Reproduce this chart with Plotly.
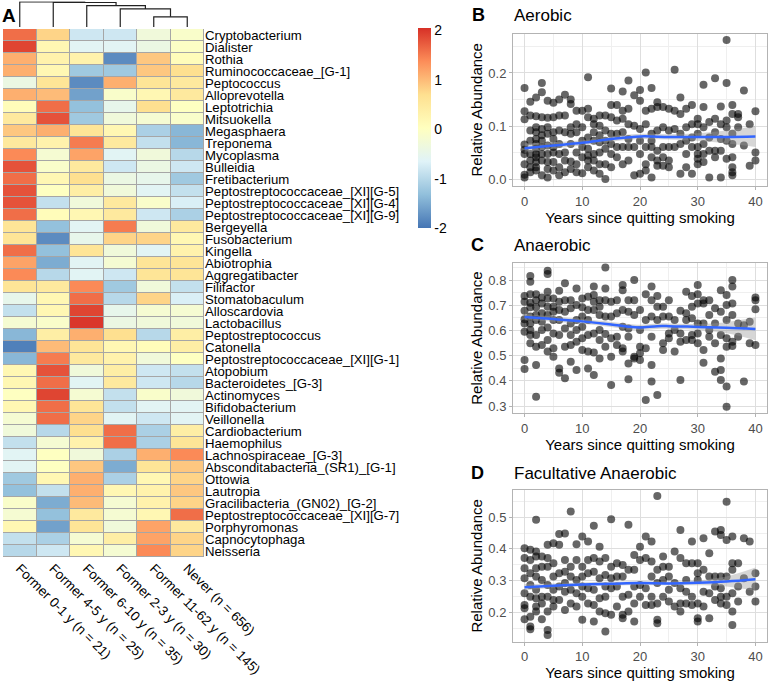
import plotly.graph_objects as go

W, H = 771, 687
FONT = "Liberation Sans"

# ---------------- Heatmap data ----------------
groups = ["Former 0-1 y (n = 21)", "Former 4-5 y (n = 25)", "Former 6-10 y (n = 35)",
          "Former 2-3 y (n = 30)", "Former 11-62 y (n = 145)", "Never (n = 656)"]

taxa = ["Cryptobacterium", "Dialister", "Rothia", "Ruminococcaceae_[G-1]", "Peptococcus",
        "Alloprevotella", "Leptotrichia", "Mitsuokella", "Megasphaera", "Treponema",
        "Mycoplasma", "Bulleidia", "Fretibacterium", "Peptostreptococcaceae_[XI][G-5]",
        "Peptostreptococcaceae_[XI][G-4]", "Peptostreptococcaceae_[XI][G-9]", "Bergeyella",
        "Fusobacterium", "Kingella", "Abiotrophia", "Aggregatibacter", "Filifactor",
        "Stomatobaculum", "Alloscardovia", "Lactobacillus", "Peptostreptococcus", "Catonella",
        "Peptostreptococcaceae_[XI][G-1]", "Atopobium", "Bacteroidetes_[G-3]", "Actinomyces",
        "Bifidobacterium", "Veillonella", "Cardiobacterium", "Haemophilus",
        "Lachnospiraceae_[G-3]", "Absconditabacteria_(SR1)_[G-1]", "Ottowia", "Lautropia",
        "Gracilibacteria_(GN02)_[G-2]", "Peptostreptococcaceae_[XI][G-7]", "Porphyromonas",
        "Capnocytophaga", "Neisseria"]

zscores = [
    [1.6, 0.8, -0.8, -0.8, -0.3, -0.1],
    [1.9, 0.2, -0.6, -0.6, -0.4, -0.05],
    [1.1, 0.3, 0.3, -1.8, 0.9, 0.1],
    [1.1, 0.2, -1.2, -1.2, 0.9, 0.7],
    [-0.4, 0.6, -1.8, 1.1, 0.6, 0.5],
    [1.1, 1.0, -1.6, -0.1, 0.2, 0.5],
    [0.1, 1.6, -1.3, -0.5, 0.7, 0.0],
    [0.5, 1.8, -1.2, -0.3, -0.2, -0.1],
    [0.9, 1.1, 0.6, 0.2, -1.1, -1.4],
    [0.5, 0.3, 1.5, 0.5, -0.9, -1.4],
    [1.4, -0.2, 1.2, -0.6, -0.3, -1.0],
    [1.8, -0.1, 0.5, -0.8, -0.4, -0.8],
    [1.6, 0.2, 0.7, -0.4, -0.5, -1.2],
    [1.8, 0.0, 0.4, -0.3, -0.6, -0.9],
    [1.8, -0.9, -0.3, 0.5, -0.1, -0.7],
    [1.6, 0.1, 0.2, 0.5, -0.8, -1.1],
    [0.6, -1.3, -0.6, 1.5, -0.3, 0.5],
    [0.6, -1.8, -0.5, 0.8, 0.8, 0.2],
    [1.6, -1.3, 0.6, -0.3, -0.6, 0.3],
    [1.2, -1.5, -0.6, -0.2, 0.6, 0.6],
    [1.4, -1.0, -0.6, -0.8, 0.6, 0.6],
    [0.6, 0.5, 1.4, -1.2, -0.3, -0.9],
    [-0.5, 0.2, 1.6, -1.0, 0.8, -0.7],
    [-0.9, 0.2, 1.9, -0.5, -0.2, -0.2],
    [-0.2, -0.1, 2.0, -0.4, -0.3, -0.3],
    [-1.4, 0.4, 1.1, 0.7, -1.0, 0.4],
    [-1.9, 1.0, 0.6, 0.2, 0.1, 0.4],
    [-1.4, 1.5, 0.5, 0.3, -0.3, 0.0],
    [0.2, 1.8, -0.3, 0.4, -0.8, -0.9],
    [0.2, 1.6, -0.6, 0.5, -0.8, -1.0],
    [0.0, 1.9, -0.2, -0.9, -0.1, -0.3],
    [0.2, 1.6, 0.6, -0.9, -0.6, -0.6],
    [-0.2, 1.6, 0.8, -0.6, -0.8, -0.6],
    [-0.3, -1.0, 0.7, 1.6, -1.1, 0.4],
    [-0.9, -0.2, 0.3, 1.6, -1.1, 0.6],
    [-0.6, 0.0, -0.3, -1.1, 1.1, 1.4],
    [-0.6, 0.0, 0.9, -1.5, 0.6, 0.9],
    [-1.2, 0.2, 1.1, -1.1, 0.2, 0.8],
    [-1.3, -0.9, 1.1, 0.2, 0.3, 0.9],
    [-0.1, -1.5, 1.0, -0.2, 0.3, 0.8],
    [-0.2, -1.3, 0.5, -0.2, 0.2, 1.6],
    [0.2, -1.6, 0.6, -0.3, 1.2, 0.5],
    [-0.9, -1.1, -0.2, 0.4, 1.2, 0.8],
    [-1.0, -0.8, 0.2, -0.2, 1.4, 0.8],
]

colorbar_ticks = [-2, -1, 0, 1, 2]
colorbar_ticktext = ["-2", "-1", "0", "1", "2"]

# column dendrogram merges: (left node, right node, height); leaves 0..5, new nodes 6..
dendro_merges = [(4, 5, 10.0), (3, 6, 17.7), (2, 7, 21.0), (1, 8, 24.0), (0, 9, 24.7)]

# ---------------- Scatter data (values per year 0..40) ----------------
aerobic_by_year = [
    [0.172, 0.128, 0.113, 0.066, 0.056, 0.048, 0.029, 0.009, 0.004],
    [0.146, 0.120, 0.092, 0.073, 0.048, 0.036, 0.023, 0.014],
    [0.154, 0.119, 0.098, 0.089, 0.076, 0.067, 0.058, 0.048, 0.042, 0.033, 0.023, 0.017],
    [0.181, 0.164, 0.117, 0.095, 0.083, 0.073, 0.061, 0.048, 0.036, 0.008],
    [0.148, 0.116, 0.098, 0.086, 0.064, 0.048, 0.033, 0.020, 0.004],
    [0.144, 0.117, 0.089, 0.076, 0.061, 0.051, 0.033, 0.017],
    [0.150, 0.120, 0.092, 0.067, 0.048, 0.023, 0.008],
    [0.159, 0.120, 0.089, 0.051, 0.036, 0.014],
    [0.150, 0.142, 0.098, 0.086, 0.067, 0.034, 0.020],
    [0.129, 0.104, 0.089, 0.051, 0.029, 0.014],
    [0.129, 0.098, 0.073, 0.061, 0.042, 0.012],
    [0.192, 0.133, 0.117, 0.079, 0.058, 0.045, 0.036, 0.023],
    [0.114, 0.104, 0.089, 0.073, 0.048, 0.036, 0.017],
    [0.120, 0.101, 0.083, 0.070, 0.051, 0.029, 0.011],
    [0.120, 0.092, 0.073, 0.058, 0.029, 0.001],
    [0.171, 0.140, 0.117, 0.086, 0.067, 0.048, 0.023],
    [0.140, 0.111, 0.086, 0.061, 0.042],
    [0.165, 0.129, 0.114, 0.089, 0.061, 0.029],
    [0.186, 0.133, 0.104, 0.076, 0.061, 0.036],
    [0.158, 0.101, 0.061, 0.008],
    [0.168, 0.148, 0.095, 0.073, 0.048, 0.011],
    [0.201, 0.129, 0.104, 0.061, 0.029, 0.017],
    [0.172, 0.133, 0.086, 0.073, 0.061, 0.042, 0.004],
    [0.145, 0.136, 0.092, 0.054, 0.036, 0.026],
    [0.136, 0.098, 0.061, 0.042, 0.026],
    [0.133, 0.092, 0.061, 0.036, 0.023],
    [0.206, 0.129, 0.095, 0.061],
    [0.154, 0.123, 0.086, 0.067, 0.011],
    [0.133, 0.098, 0.073, 0.048, 0.023],
    [0.140, 0.104, 0.079, 0.061, 0.011],
    [0.114, 0.104, 0.086, 0.061, 0.048, 0.039, 0.029],
    [0.178, 0.136, 0.098, 0.067, 0.048, 0.033],
    [0.108, 0.079, 0.054, 0.004],
    [0.190, 0.114, 0.089, 0.054, 0.042],
    [0.137, 0.104, 0.076, 0.054, 0.004],
    [0.262, 0.181, 0.111, 0.098, 0.073, 0.039],
    [0.140, 0.123, 0.086, 0.067, 0.042, 0.023, 0.014, 0.008],
    [0.123, 0.117, 0.098],
    [0.167, 0.064],
    [0.104, 0.026],
    [0.128, 0.051, 0.036],
]

anaerobic_by_year = [
    [0.737, 0.714, 0.678, 0.644, 0.628, 0.595, 0.483, 0.447],
    [0.816, 0.793, 0.744, 0.710, 0.692, 0.655, 0.628, 0.602, 0.582, 0.549],
    [0.744, 0.720, 0.692, 0.661, 0.641, 0.582, 0.535, 0.463, 0.337],
    [0.731, 0.707, 0.668, 0.635, 0.602, 0.542],
    [0.837, 0.824, 0.754, 0.727, 0.694, 0.661, 0.612, 0.562, 0.516],
    [0.727, 0.694, 0.674, 0.641, 0.588, 0.529, 0.496],
    [0.758, 0.714, 0.681, 0.641, 0.582, 0.449, 0.432],
    [0.787, 0.720, 0.674, 0.608, 0.535, 0.410],
    [0.720, 0.688, 0.628, 0.582, 0.542, 0.476],
    [0.767, 0.701, 0.641, 0.602, 0.555, 0.443],
    [0.727, 0.692, 0.655, 0.615, 0.569, 0.522],
    [0.734, 0.681, 0.641, 0.582, 0.516, 0.449],
    [0.774, 0.741, 0.714, 0.681, 0.588, 0.512, 0.423],
    [0.720, 0.694, 0.661, 0.602, 0.562, 0.489],
    [0.850, 0.767, 0.720, 0.655, 0.586, 0.535],
    [0.714, 0.655, 0.569, 0.496, 0.383],
    [0.720, 0.668, 0.575, 0.542],
    [0.780, 0.760, 0.681, 0.615, 0.529, 0.516],
    [0.720, 0.674, 0.608, 0.575, 0.469, 0.406],
    [0.800, 0.720, 0.661, 0.496, 0.489],
    [0.681, 0.602, 0.535, 0.509, 0.483],
    [0.744, 0.641, 0.529, 0.324],
    [0.774, 0.720, 0.655, 0.575, 0.463, 0.397],
    [0.737, 0.694, 0.641, 0.344],
    [0.694, 0.655, 0.549, 0.522],
    [0.720, 0.655, 0.588, 0.569],
    [0.641, 0.602, 0.516],
    [0.678, 0.588, 0.555, 0.403],
    [0.754, 0.668, 0.641, 0.562],
    [0.737, 0.694, 0.648, 0.582, 0.562],
    [0.780, 0.744, 0.707, 0.628, 0.588, 0.549],
    [0.720, 0.707, 0.628, 0.522, 0.472],
    [0.720, 0.661, 0.602, 0.575],
    [0.688, 0.628, 0.549, 0.436],
    [0.760, 0.674, 0.582, 0.489, 0.443, 0.403],
    [0.741, 0.701, 0.641, 0.569, 0.535, 0.377, 0.297],
    [0.800, 0.774, 0.707, 0.661, 0.555, 0.538],
    [0.628, 0.575],
    [0.621, 0.397],
    [0.635, 0.549],
    [0.731, 0.720, 0.684, 0.542],
]

facultative_by_year = [
    [0.402, 0.371, 0.339, 0.307, 0.260, 0.223, 0.213, 0.178],
    [0.397, 0.365, 0.323, 0.286, 0.249, 0.186, 0.155, 0.146],
    [0.492, 0.392, 0.376, 0.339, 0.313, 0.271, 0.244, 0.218, 0.202],
    [0.376, 0.344, 0.302, 0.249, 0.228, 0.178],
    [0.413, 0.371, 0.344, 0.286, 0.249, 0.202, 0.144, 0.128],
    [0.418, 0.355, 0.313, 0.271, 0.239, 0.218],
    [0.447, 0.413, 0.323, 0.281, 0.239],
    [0.449, 0.365, 0.328, 0.292, 0.265, 0.207],
    [0.518, 0.344, 0.313, 0.271, 0.228],
    [0.415, 0.365, 0.302, 0.260, 0.218],
    [0.439, 0.344, 0.313, 0.281, 0.249, 0.176],
    [0.423, 0.365, 0.323, 0.276, 0.228],
    [0.473, 0.371, 0.328, 0.271, 0.223, 0.171],
    [0.407, 0.360, 0.307, 0.244, 0.202],
    [0.371, 0.318, 0.281, 0.249, 0.197, 0.139],
    [0.494, 0.344, 0.307, 0.276, 0.192],
    [0.355, 0.313, 0.281, 0.218],
    [0.349, 0.313, 0.249, 0.192, 0.181],
    [0.476, 0.334, 0.255, 0.202],
    [0.381, 0.334, 0.281, 0.228, 0.171],
    [0.407, 0.365, 0.286, 0.249],
    [0.439, 0.371, 0.276, 0.223],
    [0.423, 0.360, 0.313, 0.249, 0.223],
    [0.567, 0.334, 0.292, 0.228, 0.176, 0.165],
    [0.376, 0.344, 0.302, 0.249],
    [0.344, 0.313, 0.271, 0.234],
    [0.392, 0.292, 0.218],
    [0.460, 0.371, 0.276, 0.228, 0.202],
    [0.355, 0.302, 0.265, 0.228],
    [0.423, 0.355, 0.249, 0.223],
    [0.355, 0.323, 0.302, 0.228, 0.181, 0.171],
    [0.434, 0.334, 0.265, 0.218],
    [0.386, 0.313, 0.260, 0.181],
    [0.455, 0.313, 0.281, 0.239],
    [0.460, 0.444, 0.313, 0.276, 0.249, 0.228],
    [0.549, 0.428, 0.313, 0.249, 0.223],
    [0.439, 0.355, 0.334, 0.260, 0.202, 0.160],
    [0.355, 0.281, 0.234],
    [0.434, 0.307],
    [0.423, 0.265],
    [0.323, 0.281, 0.234],
]

# smoothing fits (loess fit and half-width of CI band)
aer_fit_x = [0, 5, 10, 15, 20, 25, 30, 35, 40]
aer_fit_y = [0.059, 0.064, 0.069, 0.076, 0.081, 0.080, 0.080, 0.080, 0.081]
aer_fit_se = [0.009, 0.006, 0.005, 0.005, 0.005, 0.005, 0.007, 0.012, 0.020]

ana_fit_x = [0, 5, 10, 15, 18, 20, 23, 25, 30, 35, 40]
ana_fit_y = [0.653, 0.645, 0.636, 0.624, 0.615, 0.612, 0.617, 0.617, 0.614, 0.611, 0.606]
ana_fit_se = [0.013, 0.010, 0.009, 0.010, 0.011, 0.011, 0.011, 0.011, 0.012, 0.022, 0.045]

fac_fit_x = [0, 5, 10, 15, 20, 25, 30, 35, 40]
fac_fit_y = [0.279, 0.284, 0.288, 0.290, 0.292, 0.291, 0.293, 0.297, 0.304]
fac_fit_se = [0.010, 0.007, 0.006, 0.006, 0.006, 0.006, 0.008, 0.016, 0.037]


def px(x):
    return x / W


def py(y):
    return 1 - y / H


fig = go.Figure()

# ---------------- Heatmap ----------------
colorscale = [[0, "#4575B4"], [1 / 6, "#91BFDB"], [2 / 6, "#E0F3F8"], [0.5, "#FFFFBF"],
              [4 / 6, "#FEE090"], [5 / 6, "#FC8D59"], [1, "#D73027"]]
fig.add_trace(go.Heatmap(
    z=zscores, x=list(range(len(groups))), y=list(range(len(taxa))),
    colorscale=colorscale, zmin=-2.0, zmax=2.05, xgap=1, ygap=1,
    xaxis="x", yaxis="y", hoverinfo="skip",
    colorbar=dict(x=px(418), xanchor="left", xpad=0, ypad=0, thickness=13,
                  lenmode="pixels", len=200, y=py(28), yanchor="top",
                  outlinewidth=0, tickvals=colorbar_ticks, ticktext=colorbar_ticktext, ticks="",
                  tickfont=dict(family=FONT, size=14, color="black")),
))

# ---------------- Dendrogram ----------------
node_pos = {i: (float(i), 0.0) for i in range(len(groups))}
dx, dy = [], []
nid = len(groups)
for a, b, h in dendro_merges:
    xa, ha = node_pos[a]
    xb, hb = node_pos[b]
    dx += [xa, xa, xb, xb, None]
    dy += [ha, h, h, hb, None]
    node_pos[nid] = ((xa + xb) / 2, h)
    nid += 1
fig.add_trace(go.Scatter(x=dx, y=dy, mode="lines", line=dict(color="#222222", width=1.2),
                         xaxis="x2", yaxis="y2", hoverinfo="skip", showlegend=False))


# ---------------- Scatter panels ----------------
def add_panel(by_year, fx, fy, fse, xa, ya):
    xs, ys = [], []
    for yr, vals in enumerate(by_year):
        for v in vals:
            xs.append(yr)
            ys.append(v)
    fig.add_trace(go.Scatter(x=xs, y=ys, mode="markers", xaxis=xa, yaxis=ya,
                             marker=dict(size=8, color="rgba(0,0,0,0.6)", line=dict(width=0)),
                             hoverinfo="skip", showlegend=False))
    upper = [f + s for f, s in zip(fy, fse)]
    lower = [f - s for f, s in zip(fy, fse)]
    fig.add_trace(go.Scatter(x=fx, y=upper, mode="lines", line=dict(width=0, shape="spline"),
                             xaxis=xa, yaxis=ya, hoverinfo="skip", showlegend=False))
    fig.add_trace(go.Scatter(x=fx, y=lower, mode="lines", line=dict(width=0, shape="spline"),
                             fill="tonexty", fillcolor="rgba(153,153,153,0.4)",
                             xaxis=xa, yaxis=ya, hoverinfo="skip", showlegend=False))
    fig.add_trace(go.Scatter(x=fx, y=fy, mode="lines", line=dict(color="#3366FF", width=2.5, shape="spline"),
                             xaxis=xa, yaxis=ya, hoverinfo="skip", showlegend=False))


add_panel(aerobic_by_year, aer_fit_x, aer_fit_y, aer_fit_se, "x3", "y3")
add_panel(anaerobic_by_year, ana_fit_x, ana_fit_y, ana_fit_se, "x4", "y4")
add_panel(facultative_by_year, fac_fit_x, fac_fit_y, fac_fit_se, "x5", "y5")

# ---------------- Layout ----------------
hm_dom_x = [px(3), px(204)]
layout = dict(
    width=W, height=H, margin=dict(l=0, r=0, t=0, b=0),
    template="none", paper_bgcolor="white", plot_bgcolor="white",
    showlegend=False, font=dict(family=FONT, color="black"),
    xaxis=dict(domain=hm_dom_x, anchor="y", range=[-0.5, len(groups) - 0.5],
               tickvals=list(range(len(groups))), ticktext=groups, tickangle=45,
               ticks="", showgrid=False, zeroline=False, showline=False, automargin=False,
               tickfont=dict(family=FONT, size=13.5, color="black")),
    yaxis=dict(domain=[py(557), py(29)], anchor="x", range=[len(taxa) - 0.5, -0.5],
               side="right", tickvals=list(range(len(taxa))), ticktext=taxa,
               ticks="", showgrid=False, zeroline=False, showline=False, automargin=False,
               tickfont=dict(family=FONT, size=13.2, color="black")),
    xaxis2=dict(domain=hm_dom_x, anchor="y2", range=[-0.5, len(groups) - 0.5], visible=False),
    yaxis2=dict(domain=[py(27), py(1.5)], anchor="x2", range=[0, 25], visible=False),
)

grid_major = "#DEDEDE"
grid_minor = "#EFEFEF"
border = "#B3B3B3"


def xax(dom_y_anchor):
    return dict(domain=[px(513), px(767)], anchor=dom_y_anchor, range=[-2, 42],
                tickvals=[0, 10, 20, 30, 40], showgrid=True, gridcolor=grid_major, gridwidth=1,
                minor=dict(tickvals=[5, 15, 25, 35], showgrid=True, gridcolor=grid_minor, gridwidth=0.6, ticks=""),
                ticks="outside", ticklen=3, tickcolor=border, tickwidth=1,
                tickfont=dict(family=FONT, size=13, color="#4D4D4D"),
                showline=True, mirror=True, linecolor=border, linewidth=1, zeroline=False,
                automargin=False,
                title=dict(text="Years since quitting smoking", standoff=3,
                           font=dict(family=FONT, size=15, color="black")))


def yax(dom, rng, tv, minor_tv, xa):
    return dict(domain=dom, anchor=xa, range=rng, tickvals=tv, tickformat=".1f",
                showgrid=True, gridcolor=grid_major, gridwidth=1,
                minor=dict(tickvals=minor_tv, showgrid=True, gridcolor=grid_minor, gridwidth=0.6, ticks=""),
                ticks="outside", ticklen=3, tickcolor=border, tickwidth=1,
                tickfont=dict(family=FONT, size=13, color="#4D4D4D"),
                showline=True, mirror=True, linecolor=border, linewidth=1, zeroline=False,
                automargin=False,
                title=dict(text="Relative Abundance", standoff=2,
                           font=dict(family=FONT, size=15, color="black")))


layout["xaxis3"] = xax("y3")
layout["yaxis3"] = yax([py(186), py(33.5)], [-0.012, 0.274], [0.0, 0.1, 0.2], [0.05, 0.15, 0.25], "x3")
layout["xaxis4"] = xax("y4")
layout["yaxis4"] = yax([py(413.3), py(262.7)], [0.271, 0.869], [0.3, 0.4, 0.5, 0.6, 0.7, 0.8],
                       [0.35, 0.45, 0.55, 0.65, 0.75, 0.85], "x4")
layout["xaxis5"] = xax("y5")
layout["yaxis5"] = yax([py(641.7), py(490)], [0.107, 0.586], [0.2, 0.3, 0.4, 0.5],
                       [0.15, 0.25, 0.35, 0.45, 0.55], "x5")

fig.update_layout(**layout)

# heatmap cell borders: grey background under the gapped heatmap
fig.add_shape(type="rect", xref="x", yref="y", x0=-0.5, x1=len(groups) - 0.5,
              y0=-0.5, y1=len(taxa) - 0.5, fillcolor="#A6A6A6",
              line=dict(color="#A6A6A6", width=1), layer="below")

# panel letters and titles
ann = []
for letter, xpos, ypos, size in [("A", 9, 15, 19), ("B", 478, 15, 18), ("C", 477, 245, 18), ("D", 477, 473, 18)]:
    ann.append(dict(text=f"<b>{letter}</b>", x=px(xpos), y=py(ypos), xref="paper", yref="paper",
                    showarrow=False, xanchor="center", yanchor="middle",
                    font=dict(family=FONT, size=size, color="black")))
for title, ypos in [("Aerobic", 15), ("Anaerobic", 245), ("Facultative Anaerobic", 473)]:
    ann.append(dict(text=title, x=px(512), y=py(ypos), xref="paper", yref="paper",
                    showarrow=False, xanchor="left", yanchor="middle",
                    font=dict(family=FONT, size=17, color="black")))
fig.update_layout(annotations=ann)

fig.write_html("out.html", config={"displayModeBar": False},
               post_script="document.body.style.margin='0px';document.body.style.overflow='hidden';")
